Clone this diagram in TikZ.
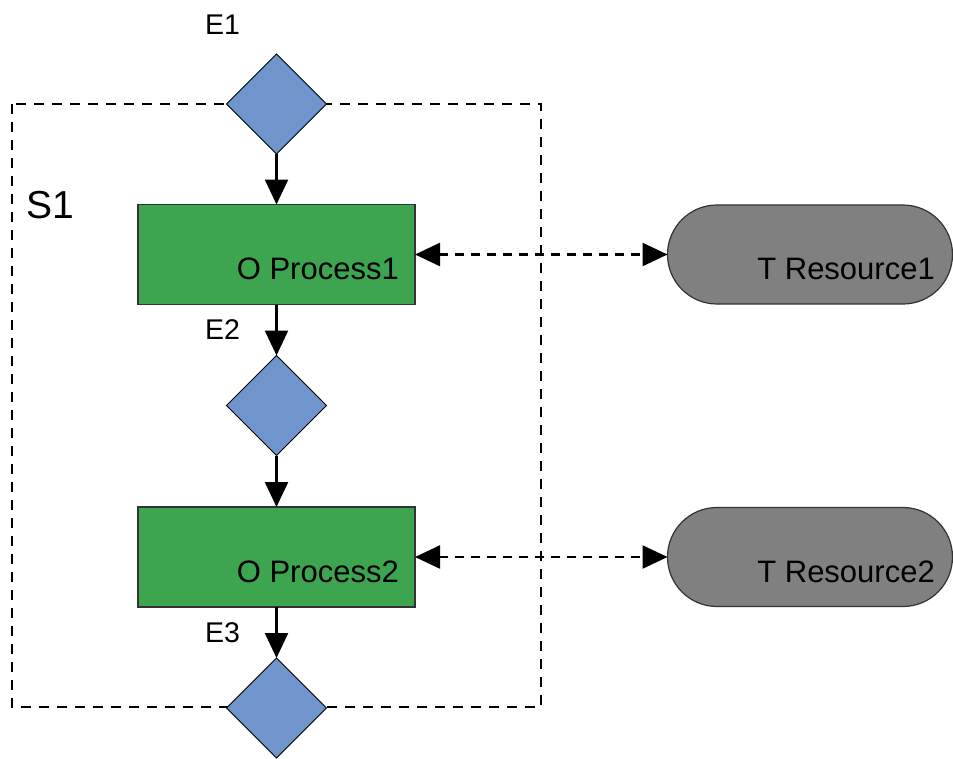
\documentclass[tikz,border=0pt]{standalone}
\usepackage{fontspec}
\setmainfont{Liberation Sans}
\usetikzlibrary{shapes.geometric,arrows.meta}
\definecolor{evblue}{RGB}{111,149,204}
\definecolor{opgreen}{RGB}{61,165,79}
\definecolor{resgrey}{RGB}{128,128,128}
\begin{document}
\begin{tikzpicture}[x=1pt,y=-1pt,
  event/.style={diamond,draw=black,line width=1pt,fill=evblue,minimum width=100pt,minimum height=100pt,inner sep=0pt,outer sep=0pt,aspect=1},
  opbox/.style={rectangle,draw=black!80,line width=1.4pt,fill=opgreen,minimum width=277pt,minimum height=100pt,inner sep=0pt,outer sep=0pt},
  resbox/.style={rectangle,rounded corners=49.5pt,draw=black!80,line width=1.2pt,fill=resgrey,minimum width=285pt,minimum height=99pt,inner sep=0pt,outer sep=0pt},
  lbl/.style={font=\fontsize{31}{37}\selectfont,inner sep=0pt,anchor=base east},
  elbl/.style={font=\fontsize{28.5}{34}\selectfont,inner sep=0pt,anchor=base west},
  flow/.style={line width=2.4pt,-{Triangle[length=25pt,width=23pt]}},
  assoc/.style={line width=2.4pt,dash pattern=on 9pt off 7pt,{Triangle[length=25pt,width=23pt]}-{Triangle[length=25pt,width=23pt]}},
  sysbox/.style={line width=2.4pt,dash pattern=on 10pt off 8pt}]
\useasboundingbox (0,0) rectangle (953,758);
% system boundary
\draw[sysbox] (12,104) rectangle (541,707);
\node[elbl,font=\fontsize{39}{46}\selectfont] (s1) at (26,218) {S1};
% events
\node[event] (e1) at (276.5,104) {};
\node[event] (e2) at (276.5,405.5) {};
\node[event] (e3) at (276.5,708) {};
% processes
\node[opbox] (p1) at (276.5,254.5) {};
\node[opbox] (p2) at (276.5,557) {};
\node[lbl] (p1t) at (399,279) {O Process1};
\node[lbl] (p2t) at (399,582) {O Process2};
% resources
\node[resbox] (r1) at (810,254.5) {};
\node[resbox] (r2) at (810,557) {};
\node[lbl] (r1t) at (935,279) {T Resource1};
\node[lbl] (r2t) at (935,582) {T Resource2};
% event labels
\node[elbl] (e1t) at (205,34) {E1};
\node[elbl] (e2t) at (205,339) {E2};
\node[elbl] (e3t) at (205,642) {E3};
% flows
\draw[flow] (e1.south) -- (p1.north);
\draw[flow] (p1.south) -- (e2.north);
\draw[flow] (e2.south) -- (p2.north);
\draw[flow] (p2.south) -- (e3.north);
% associations
\draw[assoc] (p1.east) -- (r1.west);
\draw[assoc] (p2.east) -- (r2.west);
\end{tikzpicture}
\end{document}
